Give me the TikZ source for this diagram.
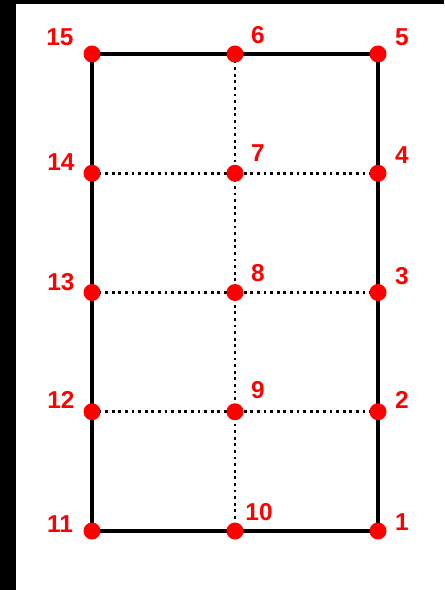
\documentclass[tikz,border=0pt]{standalone}
\usepackage{fontspec}
\setmainfont{Liberation Sans}
\usetikzlibrary{positioning, backgrounds}
\definecolor{ptred}{RGB}{255, 0, 0}
\tikzset{
    ptdot/.style={circle, fill=ptred, inner sep=0pt, minimum size=0.34cm},
    numlabel/.style={text=ptred, font=\fontsize{13.9}{14}\selectfont\bfseries, inner sep=0pt},
    frameline/.style={line width=0.085cm, draw=black},
    gridline/.style={line width=0.056cm, draw=black, dash pattern=on 0.056cm off 0.076cm},
}
\begin{document}
\begin{tikzpicture}[x=0.02cm, y=-0.02cm]
    \useasboundingbox (0, 0) rectangle (444, 590);

    % Points, right column
    \node[ptdot] (p1) at (378, 531) {};
    \node[ptdot] (p2) at (378, 411.75) {};
    \node[ptdot] (p3) at (378, 292.5) {};
    \node[ptdot] (p4) at (378, 173.25) {};
    \node[ptdot] (p5) at (378, 54) {};

    % Points, middle column
    \node[ptdot] (p6) at (235, 54) {};
    \node[ptdot] (p7) at (235, 173.25) {};
    \node[ptdot] (p8) at (235, 292.5) {};
    \node[ptdot] (p9) at (235, 411.75) {};
    \node[ptdot] (p10) at (235, 531) {};

    % Points, left column
    \node[ptdot] (p11) at (92, 531) {};
    \node[ptdot] (p12) at (92, 411.75) {};
    \node[ptdot] (p13) at (92, 292.5) {};
    \node[ptdot] (p14) at (92, 173.25) {};
    \node[ptdot] (p15) at (92, 54) {};

    % Numbers
    \node[numlabel] (l1) at (402, 522) {1};
    \node[numlabel] (l2) at (402, 400) {2};
    \node[numlabel] (l3) at (402, 276) {3};
    \node[numlabel] (l4) at (402, 155) {4};
    \node[numlabel] (l5) at (402, 37) {5};
    \node[numlabel] (l6) at (258, 35) {6};
    \node[numlabel] (l7) at (258, 153) {7};
    \node[numlabel] (l8) at (258, 273) {8};
    \node[numlabel] (l9) at (258, 390) {9};
    \node[numlabel] (l10) at (259, 512) {10};
    \node[numlabel] (l11) at (60, 524) {11};
    \node[numlabel] (l12) at (61, 400) {12};
    \node[numlabel] (l13) at (61, 282) {13};
    \node[numlabel] (l14) at (61, 162) {14};
    \node[numlabel] (l15) at (60, 37) {15};

    \begin{scope}[on background layer]
        % Page and black edges
        \fill[white] (0, 0) rectangle (444, 590);
        \fill[black] (0, 0) rectangle (16, 590);
        \fill[black] (0, 0) rectangle (444, 4);

        % Dotted inner lines
        \draw[gridline] (p14.center) -- (p4.center);
        \draw[gridline] (p13.center) -- (p3.center);
        \draw[gridline] (p12.center) -- (p2.center);
        \draw[gridline] (p6.center) -- (p10.center);

        % Outer frame
        \draw[frameline] (p15.center) -- (p5.center) -- (p1.center) -- (p11.center) -- cycle;
    \end{scope}
\end{tikzpicture}
\end{document}
